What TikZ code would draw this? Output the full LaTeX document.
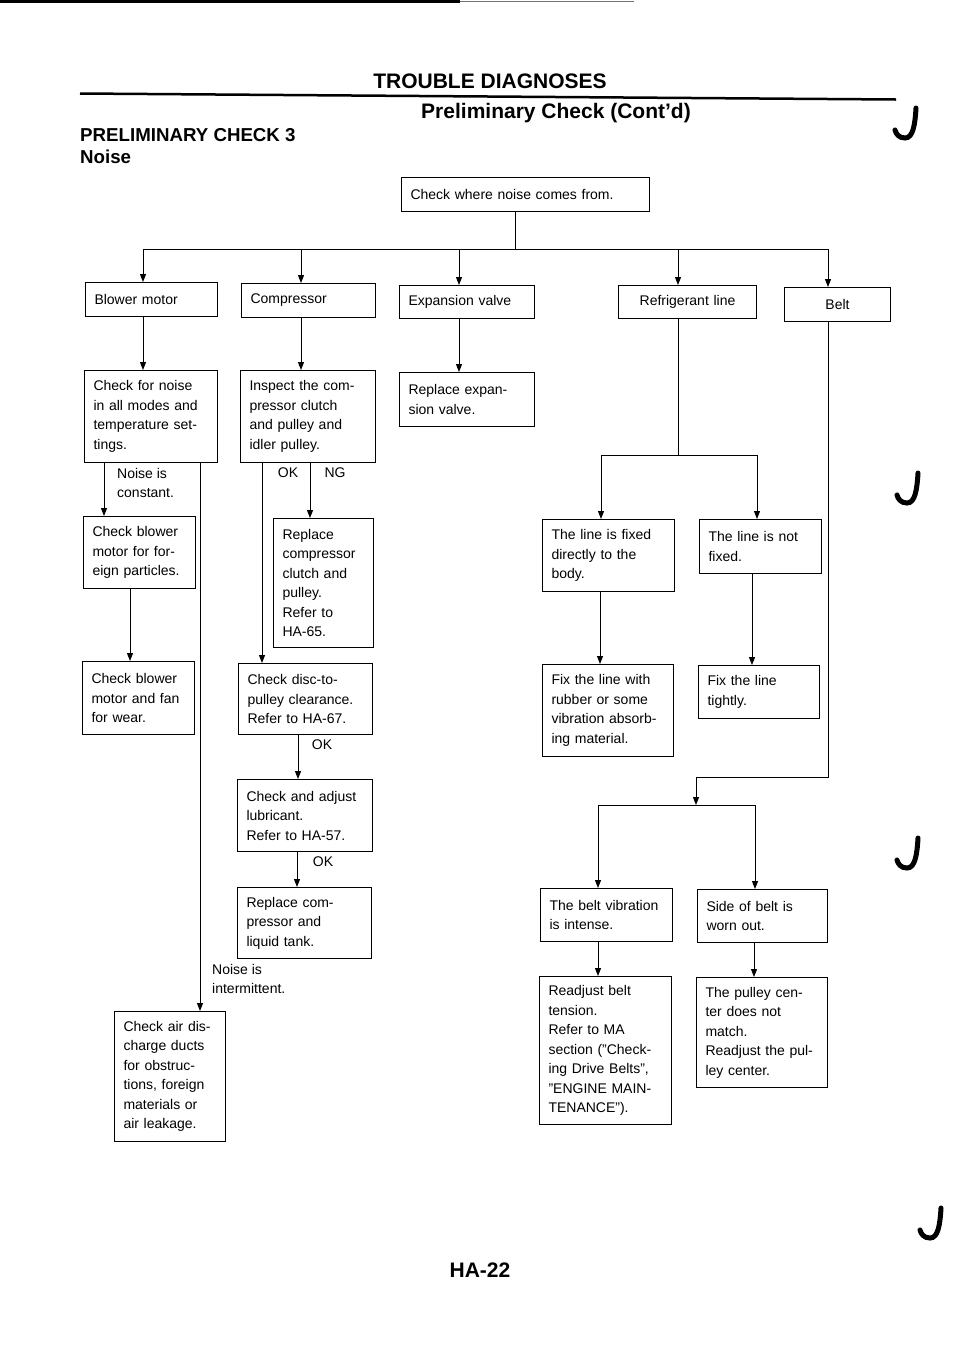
\documentclass[tikz,border=0pt]{standalone}
\usepackage{fontspec}
\setmainfont{Liberation Sans}
\usetikzlibrary{arrows.meta}

\begin{document}
\begin{tikzpicture}[x=1pt, y=-1pt, >={Triangle[length=8pt,width=6pt]}, font=\fontsize{14}{19.5}\selectfont]
\tikzstyle{blk}=[draw, line width=1pt, anchor=north west, inner xsep=9pt, inner ysep=3pt, align=left]
\tikzstyle{mid}=[blk, align=center]
\tikzstyle{arr}=[->, line width=1pt]
\tikzstyle{lnk}=[line width=1pt]
\tikzstyle{lbl}=[inner sep=0pt, align=left]
\tikzstyle{head}=[inner sep=0pt, font=\fontsize{21}{24}\selectfont\bfseries]
\tikzstyle{subhead}=[inner sep=0pt, anchor=west, font=\fontsize{18.7}{22}\selectfont\bfseries]
\tikzstyle{tick}=[line width=5pt, line cap=round]

\useasboundingbox (0,0) rectangle (960,1358);

\fill (0,0) rectangle (460,3);
\draw[line width=1.5pt, black!55] (460,1.5) -- (634,1.5);

\node[head] (title) at (490,81) {TROUBLE DIAGNOSES};
\draw[line width=2.5pt] (80,93.5) -- (896,99.5);
\node[head] (subtitle) at (556,113) {Preliminary Check (Cont'd)};
\node[subhead] (chknum) at (80,135) {PRELIMINARY CHECK 3};
\node[subhead] (noise) at (80,157) {Noise};
\node[head] (page) at (480,1270) {HA-22};

\foreach \dx/\dy in {0/0, 2/365, 2/730, 25/1100}
  \draw[tick, shift={(\dx,\dy)}] (916,108) .. controls (915,125) and (913,138) .. (905,138) .. controls (899,138) and (896,134) .. (895,130);

\node[blk, minimum width=248pt, minimum height=34pt, text width=230pt] (top) at (401,177) {Check where noise comes from.};

\node[blk, minimum width=132pt, minimum height=34pt, text width=114pt] (blower) at (85,282) {Blower motor};
\node[blk, minimum width=134pt, minimum height=34pt, text width=116pt] (comp) at (241,283) {Compressor};
\node[blk, minimum width=135pt, minimum height=33pt, text width=117pt] (expv) at (399,285) {Expansion valve};
\node[mid, minimum width=138pt, minimum height=33pt, text width=120pt] (refl) at (618,285) {Refrigerant line};
\node[mid, minimum width=106pt, minimum height=34pt, text width=88pt] (belt) at (784,287) {Belt};

\node[blk, minimum width=133pt, minimum height=92pt, text width=115pt] (noisechk) at (84,370) {Check for noise\\in all modes and\\temperature set-\\tings.};
\node[blk, minimum width=135pt, minimum height=92pt, text width=117pt] (inspect) at (240,370) {Inspect the com-\\pressor clutch\\and pulley and\\idler pulley.};
\node[blk, minimum width=135pt, minimum height=54pt, text width=117pt] (repexp) at (399,372) {Replace expan-\\sion valve.};

\node[blk, minimum width=112pt, minimum height=72pt, text width=94pt] (foreign) at (83,516) {Check blower\\motor for for-\\eign particles.};
\node[blk, minimum width=100pt, minimum height=129pt, text width=82pt] (repclutch) at (273,518) {Replace\\compressor\\clutch and\\pulley.\\Refer to\\HA-65.};
\node[blk, minimum width=132pt, minimum height=72pt, text width=114pt] (fbody) at (542,519) {The line is fixed\\directly to the\\body.};
\node[blk, minimum width=122pt, minimum height=54pt, text width=104pt] (notfix) at (699,519) {The line is not\\fixed.};

\node[blk, minimum width=112pt, minimum height=73pt, text width=94pt] (wear) at (82,661) {Check blower\\motor and fan\\for wear.};
\node[blk, minimum width=134pt, minimum height=71pt, text width=116pt] (disc) at (238,663) {Check disc-to-\\pulley clearance.\\Refer to HA-67.};
\node[blk, minimum width=131pt, minimum height=92pt, text width=113pt] (rubber) at (542,664) {Fix the line with\\rubber or some\\vibration absorb-\\ing material.};
\node[blk, minimum width=121pt, minimum height=53pt, text width=103pt] (tight) at (698,665) {Fix the line\\tightly.};

\node[blk, minimum width=135pt, minimum height=72pt, text width=117pt] (lube) at (237,779) {Check and adjust\\lubricant.\\Refer to HA-57.};
\node[blk, minimum width=134pt, minimum height=71pt, text width=116pt] (liquid) at (237,887) {Replace com-\\pressor and\\liquid tank.};
\node[blk, minimum width=132pt, minimum height=53pt, text width=114pt] (vib) at (540,888) {The belt vibration\\is intense.};
\node[blk, minimum width=130pt, minimum height=53pt, text width=112pt] (worn) at (697,889) {Side of belt is\\worn out.};

\node[blk, minimum width=111pt, minimum height=130pt, text width=93pt] (ducts) at (114,1011) {Check air dis-\\charge ducts\\for obstruc-\\tions, foreign\\materials or\\air leakage.};
\node[blk, minimum width=132pt, minimum height=148pt, text width=114pt] (tension) at (539,976) {Readjust belt\\tension.\\Refer to MA\\section ("Check-\\ing Drive Belts",\\"ENGINE MAIN-\\TENANCE").};
\node[blk, minimum width=131pt, minimum height=110pt, text width=113pt] (center) at (696,977) {The pulley cen-\\ter does not\\match.\\Readjust the pul-\\ley center.};

\node[lbl, anchor=west] (constant) at (117,483) {Noise is\\constant.};
\node[lbl, anchor=west] (intermit) at (212,979) {Noise is\\intermittent.};
\node[lbl] (ok1) at (288,473) {OK};
\node[lbl] (ng1) at (335,473) {NG};
\node[lbl] (ok2) at (322,745) {OK};
\node[lbl] (ok3) at (323,862) {OK};

\coordinate (bTop) at (515,249);
\coordinate (busL) at (143,249);
\coordinate (bComp) at (301,249);
\coordinate (bExp) at (459,249);
\coordinate (bRef) at (678,249);
\coordinate (busR) at (828,249);
\draw[lnk] (bTop |- top.south) -- (bTop);
\draw[lnk] (busL) -- (busR);
\draw[arr] (busL) -- (busL |- blower.north);
\draw[arr] (bComp) -- (bComp |- comp.north);
\draw[arr] (bExp) -- (bExp |- expv.north);
\draw[arr] (bRef) -- (bRef |- refl.north);
\draw[arr] (busR) -- (busR |- belt.north);

\draw[arr] (busL |- blower.south) -- (busL |- noisechk.north);
\draw[arr] (bComp |- comp.south) -- (bComp |- inspect.north);
\draw[arr] (bExp |- expv.south) -- (bExp |- repexp.north);

\coordinate (xConst) at (104,0);
\coordinate (xInt) at (200,0);
\coordinate (xWear) at (130,0);
\coordinate (xOK) at (262,0);
\coordinate (xNG) at (310,0);
\coordinate (xLube) at (298,0);
\coordinate (xLiq) at (297,0);
\draw[arr] (xConst |- noisechk.south) -- (xConst |- foreign.north);
\draw[arr] (xInt |- noisechk.south) -- (xInt |- ducts.north);
\draw[arr] (xWear |- foreign.south) -- (xWear |- wear.north);
\draw[arr] (xOK |- inspect.south) -- (xOK |- disc.north);
\draw[arr] (xNG |- inspect.south) -- (xNG |- repclutch.north);
\draw[arr] (xLube |- disc.south) -- (xLube |- lube.north);
\draw[arr] (xLiq |- lube.south) -- (xLiq |- liquid.north);

\coordinate (refJ) at (678,455);
\coordinate (refL) at (601,455);
\coordinate (refR) at (757,455);
\coordinate (xRub) at (600,0);
\coordinate (xTight) at (752,0);
\draw[lnk] (bRef |- refl.south) -- (refJ);
\draw[lnk] (refL) -- (refR);
\draw[arr] (refL) -- (refL |- fbody.north);
\draw[arr] (refR) -- (refR |- notfix.north);
\draw[arr] (xRub |- fbody.south) -- (xRub |- rubber.north);
\draw[arr] (xTight |- notfix.south) -- (xTight |- tight.north);

\coordinate (beltC) at (828,777);
\coordinate (beltD) at (696,777);
\coordinate (beltJ) at (696,805);
\coordinate (beltL) at (598,805);
\coordinate (beltR) at (755,805);
\coordinate (xCen) at (754,0);
\draw[lnk] (beltC |- belt.south) -- (beltC) -- (beltD);
\draw[arr] (beltD) -- (beltJ);
\draw[lnk] (beltL) -- (beltR);
\draw[arr] (beltL) -- (beltL |- vib.north);
\draw[arr] (beltR) -- (beltR |- worn.north);
\draw[arr] (beltL |- vib.south) -- (beltL |- tension.north);
\draw[arr] (xCen |- worn.south) -- (xCen |- center.north);
\end{tikzpicture}
\end{document}
